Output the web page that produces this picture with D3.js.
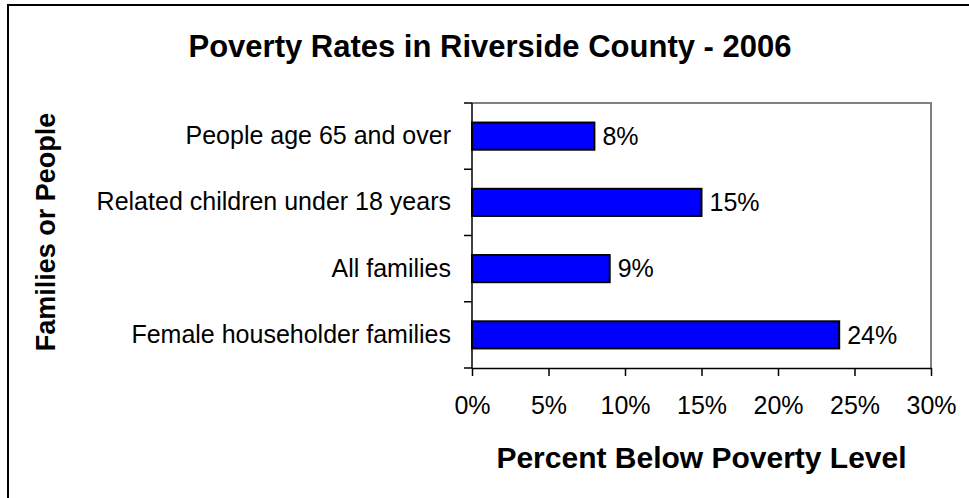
<!DOCTYPE html>
<html>
<head>
<meta charset="utf-8">
<script src="https://cdn.jsdelivr.net/npm/d3@7"></script>
<style>
  body { margin: 0; background: #fff; }
  svg { display: block; font-family: Arial, "Liberation Sans", sans-serif; }
</style>
</head>
<body>
<svg id="chart" width="969" height="498"></svg>
<script>
// data
const categories = [
  'People age 65 and over',
  'Related children under 18 years',
  'All families',
  'Female householder families'
];
const rates = [8, 15, 9, 24];
const xTicks = [0, 5, 10, 15, 20, 25, 30];
const chartTitle = 'Poverty Rates in Riverside County - 2006';
const xTitle = 'Percent Below Poverty Level';
const yTitle = 'Families or People';

const svg = d3.select('#chart');
const plot = { left: 472, top: 103, right: 931, bottom: 368 };

// outer chart border (cut off at right / bottom)
svg.append('rect')
  .attr('x', 8).attr('y', 5)
  .attr('width', 1000).attr('height', 600)
  .attr('fill', 'none')
  .attr('stroke', '#000')
  .attr('stroke-width', 2);

const xScale = d3.scaleLinear()
  .domain([0, 30])
  .range([plot.left, plot.right]);

const yScale = d3.scaleBand()
  .domain(categories)
  .range([plot.top, plot.bottom])
  .paddingInner(0.59)
  .paddingOuter(0.295);

// plot area border (top and right, gray)
svg.append('path')
  .attr('d', `M${plot.left},${plot.top}H${plot.right}V${plot.bottom}`)
  .attr('fill', 'none')
  .attr('stroke', '#808080')
  .attr('stroke-width', 2);

// bars
svg.append('g')
  .selectAll('rect')
  .data(rates)
  .enter()
  .append('rect')
    .attr('x', xScale(0))
    .attr('y', (d, i) => yScale(categories[i]))
    .attr('width', d => xScale(d) - xScale(0))
    .attr('height', yScale.bandwidth())
    .attr('fill', '#0000ff')
    .attr('stroke', '#000')
    .attr('stroke-width', 2);

// value labels
svg.append('g')
  .selectAll('text')
  .data(rates)
  .enter()
  .append('text')
    .attr('x', d => xScale(d) + 8)
    .attr('y', (d, i) => yScale(categories[i]) + yScale.bandwidth() / 2)
    .attr('dy', '0.35em')
    .attr('font-size', 25)
    .attr('fill', '#000')
    .text(d => d + '%');

// x axis
const xAxis = svg.append('g')
  .attr('transform', `translate(0,${plot.bottom})`)
  .call(d3.axisBottom(xScale)
    .tickValues(xTicks)
    .tickSizeInner(8)
    .tickSizeOuter(0)
    .tickPadding(20)
    .tickFormat(d => d + '%'));
xAxis.select('.domain').attr('stroke', '#000').attr('stroke-width', 1.5);
xAxis.selectAll('.tick line').attr('stroke', '#000').attr('stroke-width', 1.5);
xAxis.selectAll('.tick text')
  .attr('font-size', 25)
  .attr('font-family', 'Arial, "Liberation Sans", sans-serif')
  .attr('fill', '#000');

// y axis: line with ticks at category boundaries
const yAxis = svg.append('g')
  .attr('transform', `translate(${plot.left},0)`)
  .call(d3.axisLeft(yScale).tickSize(0).tickPadding(21));
yAxis.select('.domain').remove();
yAxis.selectAll('.tick text')
  .attr('font-size', 25)
  .attr('font-family', 'Arial, "Liberation Sans", sans-serif')
  .attr('fill', '#000');

const bounds = d3.range(categories.length + 1).map(i => plot.top + i * (plot.bottom - plot.top) / categories.length);
yAxis.append('line')
  .attr('x1', 0).attr('x2', 0)
  .attr('y1', plot.top).attr('y2', plot.bottom)
  .attr('stroke', '#000').attr('stroke-width', 1.5);
yAxis.selectAll('line.bound')
  .data(bounds)
  .enter()
  .append('line')
    .attr('class', 'bound')
    .attr('x1', -8).attr('x2', 0)
    .attr('y1', d => d).attr('y2', d => d)
    .attr('stroke', '#000').attr('stroke-width', 1.5);

// titles
svg.append('text')
  .attr('x', 490).attr('y', 57)
  .attr('text-anchor', 'middle')
  .attr('font-size', 31)
  .attr('font-weight', 'bold')
  .text(chartTitle);

svg.append('text')
  .attr('x', (plot.left + plot.right) / 2).attr('y', 468)
  .attr('text-anchor', 'middle')
  .attr('font-size', 30)
  .attr('font-weight', 'bold')
  .text(xTitle);

svg.append('text')
  .attr('transform', 'translate(55,232) rotate(-90)')
  .attr('text-anchor', 'middle')
  .attr('font-size', 27)
  .attr('font-weight', 'bold')
  .text(yTitle);
</script>
</body>
</html>
